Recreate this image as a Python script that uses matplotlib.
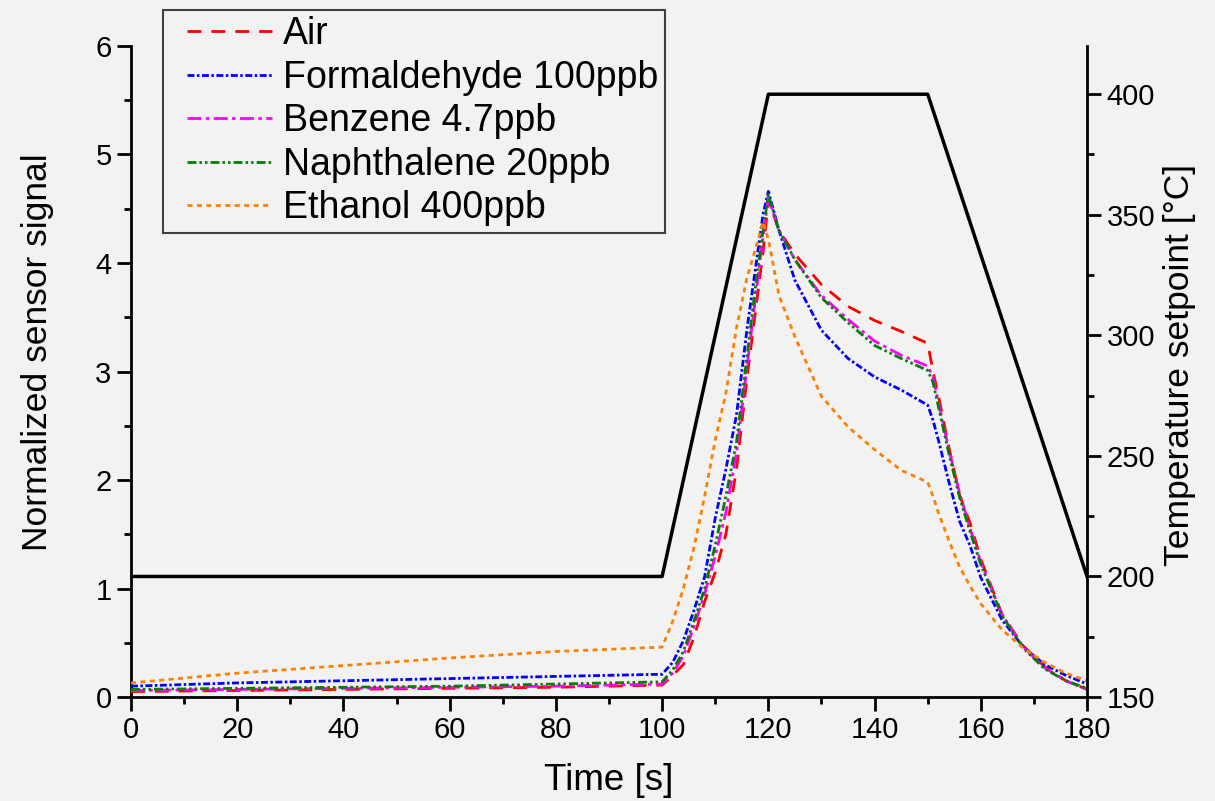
import numpy as np
import matplotlib
matplotlib.use("Agg")
import matplotlib.pyplot as plt
from matplotlib.ticker import MultipleLocator
from matplotlib.legend_handler import HandlerLine2D

plt.rcParams['font.family'] = ['Liberation Sans', 'DejaVu Sans']

# ---------------- data ----------------
t = [0, 20, 40, 60, 80, 100, 102, 104, 106, 108, 110, 112, 114, 116, 118, 119, 120,
     122, 125, 130, 135, 140, 145, 150, 151, 152, 154, 156, 158, 160, 164, 168, 172, 176, 180]

air = [0.05, 0.06, 0.07, 0.08, 0.09, 0.11, 0.20, 0.30, 0.55, 0.88, 1.15, 1.50, 2.10, 2.95, 3.72, 4.10, 4.58,
       4.30, 4.08, 3.80, 3.60, 3.47, 3.37, 3.26, 3.00, 2.78, 2.30, 1.86, 1.60, 1.27, 0.76, 0.47, 0.28, 0.15, 0.07]
formaldehyde = [0.10, 0.13, 0.15, 0.17, 0.19, 0.21, 0.32, 0.52, 0.80, 1.11, 1.65, 2.10, 2.60, 3.40, 4.10, 4.45, 4.66,
                4.30, 3.84, 3.38, 3.12, 2.95, 2.83, 2.69, 2.55, 2.37, 1.98, 1.62, 1.39, 1.10, 0.71, 0.46, 0.30, 0.20, 0.12]
benzene = [0.06, 0.07, 0.08, 0.09, 0.10, 0.12, 0.22, 0.38, 0.65, 0.95, 1.30, 1.70, 2.25, 3.05, 3.85, 4.25, 4.60,
           4.30, 4.03, 3.70, 3.48, 3.28, 3.15, 3.05, 2.95, 2.72, 2.28, 1.88, 1.55, 1.24, 0.76, 0.46, 0.27, 0.15, 0.07]
naphthalene = [0.07, 0.08, 0.09, 0.10, 0.12, 0.14, 0.25, 0.42, 0.70, 1.00, 1.40, 1.85, 2.35, 3.15, 3.95, 4.30, 4.63,
               4.30, 4.03, 3.68, 3.45, 3.24, 3.12, 3.01, 2.90, 2.68, 2.24, 1.84, 1.52, 1.22, 0.75, 0.45, 0.26, 0.15, 0.08]
ethanol = [0.13, 0.22, 0.29, 0.36, 0.42, 0.46, 0.70, 1.00, 1.38, 1.85, 2.37, 2.80, 3.40, 3.87, 4.20, 4.38, 4.22,
           3.70, 3.32, 2.77, 2.49, 2.28, 2.09, 1.98, 1.85, 1.70, 1.44, 1.20, 1.02, 0.86, 0.62, 0.45, 0.32, 0.22, 0.15]

temp_t = [0, 100, 120, 150, 180]
temp_v = [200, 200, 400, 400, 200]

labels = ["Air", "Formaldehyde 100ppb", "Benzene 4.7ppb", "Naphthalene 20ppb", "Ethanol 400ppb"]
x_ticks = [0, 20, 40, 60, 80, 100, 120, 140, 160, 180]
y_ticks = [0, 1, 2, 3, 4, 5, 6]
y2_ticks = [150, 200, 250, 300, 350, 400]


class OffsetLine(HandlerLine2D):
    """Legend line that starts a little to the right of the handle box."""
    def get_xdata(self, legend, xdescent, ydescent, width, height, fontsize):
        x0 = -xdescent + 0.17 * width
        x1 = -xdescent + width
        xd = np.array([x0, x1])
        return xd, xd


# ---------------- figure ----------------
bg = '#f2f2f2'
fig = plt.figure(figsize=(12.15, 8.01), dpi=100, facecolor=bg)
ax = fig.add_axes([0.1078, 0.1298, 0.7869, 0.8128])
ax.set_facecolor(bg)
ax2 = ax.twinx()

series = [air, formaldehyde, benzene, naphthalene, ethanol]
colors = ['#ff0000', '#0000ff', '#ff00ff', '#008000', '#ff8000']
dashes = [(5.0, 3.6), (2.5, 0.9, 0.9, 0.9), (5.0, 1.6, 1.25, 1.6), (3.2, 1.1, 0.9, 1.1, 0.9, 1.1), (1.8, 1.6)]

handles = []
for s, c, d, lab in zip(series, colors, dashes, labels):
    h, = ax.plot(t, s, color=c, lw=2.0, dashes=d, label=lab, zorder=3)
    handles.append(h)

ax2.plot(temp_t, temp_v, color='black', lw=2.5, zorder=2)

ax.set_xlim(0, 180)
ax.set_ylim(0, 6)
ax2.set_ylim(150, 420)

ax.set_xticks(x_ticks)
ax.set_yticks(y_ticks)
ax2.set_yticks(y2_ticks)
ax.xaxis.set_minor_locator(MultipleLocator(10))
ax.yaxis.set_minor_locator(MultipleLocator(0.5))
ax2.yaxis.set_minor_locator(MultipleLocator(25))

for a in (ax, ax2):
    a.spines['top'].set_visible(False)
    for sp in a.spines.values():
        sp.set_linewidth(2)
ax.spines['right'].set_visible(False)
ax2.spines['left'].set_visible(False)
ax2.spines['bottom'].set_visible(False)

ax.tick_params(axis='both', which='major', direction='out', length=10, width=2, labelsize=21, pad=4)
ax.tick_params(axis='both', which='minor', direction='out', length=5, width=2)
ax2.tick_params(axis='y', which='major', direction='out', length=10, width=2, labelsize=21, pad=4)
ax2.tick_params(axis='y', which='minor', direction='out', length=5, width=2)

ax.set_xlabel("Time [s]", fontsize=26.5)
ax.set_ylabel("Normalized sensor signal", fontsize=25.5)
ax2.set_ylabel("Temperature setpoint [°C]", fontsize=25.5)
ax.xaxis.set_label_coords(0.5, -0.1014)
ax.yaxis.set_label_coords(-0.080, 0.53)
ax2.yaxis.set_label_coords(1.0795, 0.51)

leg = fig.legend(handles=handles, loc='upper left', bbox_to_anchor=(163/1215, 1 - 10/801),
                 fontsize=27, frameon=True, fancybox=False, edgecolor='#404040',
                 facecolor=bg, framealpha=1, handlelength=2.73, handletextpad=0.3,
                 labelspacing=0.2, borderpad=0.17, borderaxespad=0,
                 handler_map={matplotlib.lines.Line2D: OffsetLine()})
leg.get_frame().set_linewidth(1.5)

fig.savefig("out.png", dpi=100, facecolor=bg)
